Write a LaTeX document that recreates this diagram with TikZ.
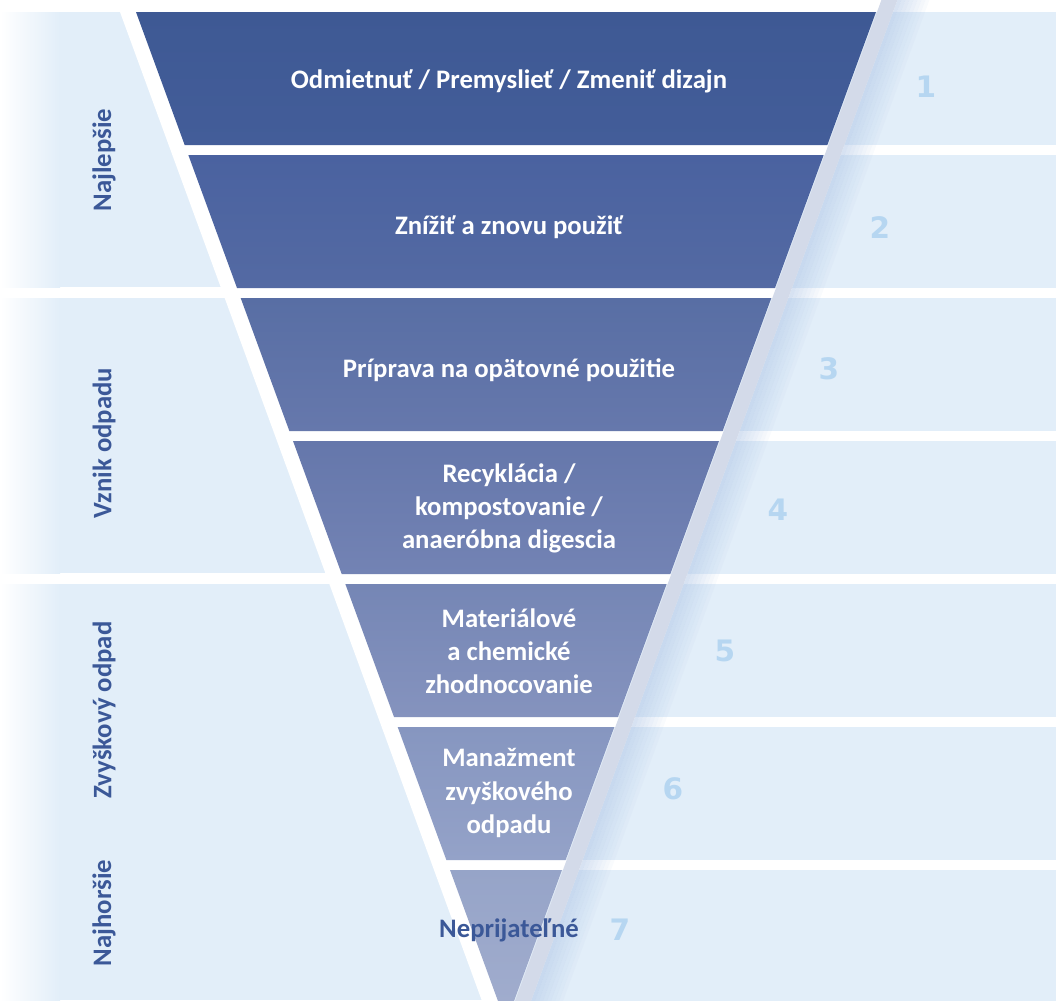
\documentclass[tikz,border=0pt]{standalone}
\usepackage{fontspec}
\setmainfont{Carlito}
\newfontfamily\numfont{DejaVu Sans}
\usetikzlibrary{calc}

\definecolor{bgblue}{HTML}{E2EEF9}
\definecolor{numblue}{HTML}{B6D6F1}
\definecolor{labelblue}{HTML}{3B5898}
\definecolor{sidegray}{HTML}{D3DAE9}
\definecolor{shadowblue}{HTML}{AFC6E6}
\definecolor{lvA}{HTML}{3E5994}\definecolor{lvAb}{HTML}{435D99}
\definecolor{lvB}{HTML}{4A62A0}\definecolor{lvBb}{HTML}{546AA3}
\definecolor{lvC}{HTML}{586EA4}\definecolor{lvCb}{HTML}{6678AC}
\definecolor{lvD}{HTML}{6577AB}\definecolor{lvDb}{HTML}{7383B4}
\definecolor{lvE}{HTML}{7586B5}\definecolor{lvEb}{HTML}{8593BE}
\definecolor{lvF}{HTML}{8696C0}\definecolor{lvFb}{HTML}{94A2C8}
\definecolor{lvG}{HTML}{96A4C8}\definecolor{lvGb}{HTML}{A0ACCD}

% half width of the funnel at height y (pixels, y down)
\pgfmathdeclarefunction{hw}{1}{\pgfmathparse{370-0.366*(#1-12)}}

\begin{document}
\begin{tikzpicture}[x={(0.025cm,0)}, y={(0,-0.025cm)},
    leveltext/.style={text=white, align=center, font=\bfseries\fontsize{19}{23.5}\selectfont},
    sidelabel/.style={text=labelblue, rotate=90, font=\bfseries\fontsize{19}{22}\selectfont},
    rank/.style={text=numblue, font=\numfont\bfseries\fontsize{21}{21}\selectfont}]
  \useasboundingbox (0,0) rectangle (1056,1000);
  \clip (0,0) rectangle (1056,1000);

  % background bands
  \foreach \t/\b in {12/287, 298/573, 584/1000} {
    \fill[bgblue] (0,\t) rectangle (506,\b);
    \shade[left color=white, right color=bgblue] (0,\t) rectangle (60,\b);
  }
  \foreach \i in {1,...,7} {
    \pgfmathsetmacro\t{12+143*(\i-1)}
    \fill[bgblue] (506,\t) rectangle (1056,\t+133);
  }

  % white and grey edges of the funnel
  \pgfmathsetmacro\wtop{hw(0)}
  \pgfmathsetmacro\wbot{hw(1010)}
  \fill[white] ({506-\wtop-16},0) -- ({506+\wtop},0) -- ({506+\wbot},1010) -- ({506-\wbot-16},1010) -- cycle;
  \foreach \k in {0,...,7} {
    \pgfmathsetmacro\op{0.5-0.06*\k}
    \fill[shadowblue, opacity=\op] ({506+\wtop+17+4*\k},0) -- ({506+\wtop+21+4*\k},0)
      -- ({506+\wbot+21+4*\k},1010) -- ({506+\wbot+17+4*\k},1010) -- cycle;
  }
  \fill[sidegray] ({506+\wtop+1},0) -- ({506+\wtop+17},0) -- ({506+\wbot+17},1010) -- ({506+\wbot+1},1010) -- cycle;

  % levels
  \foreach \i/\ct/\cb in {1/lvA/lvAb, 2/lvB/lvBb, 3/lvC/lvCb, 4/lvD/lvDb, 5/lvE/lvEb, 6/lvF/lvFb, 7/lvG/lvGb} {
    \pgfmathsetmacro\t{12+143*(\i-1)}
    \pgfmathsetmacro\b{\t+133}
    \pgfmathsetmacro\wt{hw(\t)}
    \pgfmathsetmacro\wb{hw(\b)}
    \shade[top color=\ct, bottom color=\cb] ({506-\wt},\t) -- ({506+\wt},\t) -- ({506+\wb},\b) -- ({506-\wb},\b) -- cycle;
  }

  \node[leveltext] (l1) at (509,81) {Odmietnuť / Premyslieť / Zmeniť dizajn};
  \node[leveltext] (l2) at (509,227) {Znížiť a znovu použiť};
  \node[leveltext] (l3) at (509,370) {Príprava na opätovné použitie};
  \node[leveltext] (l4) at (509,508) {Recyklácia /\\kompostovanie /\\anaeróbna digescia};
  \node[leveltext] (l5) at (509,651) {Materiálové\\a chemické\\zhodnocovanie};
  \node[leveltext] (l6) at (509,793) {Manažment\\zvyškového\\odpadu};
  \node[leveltext, text=labelblue] (l7) at (509,930) {Neprijateľné};

  \foreach \n/\x/\y in {1/926/87, 2/880/228, 3/829/369, 4/778/510, 5/725/651, 6/673/789, 7/620/930}
    \node[rank] (n\n) at (\x,\y) {\n};

  \node[sidelabel] (best) at (104,160) {Najlepšie};
  \node[sidelabel] (origin) at (104,443) {Vznik odpadu};
  \node[sidelabel] (rest) at (104,710) {Zvyškový odpad};
  \node[sidelabel] (worst) at (104,913) {Najhoršie};
\end{tikzpicture}
\end{document}
